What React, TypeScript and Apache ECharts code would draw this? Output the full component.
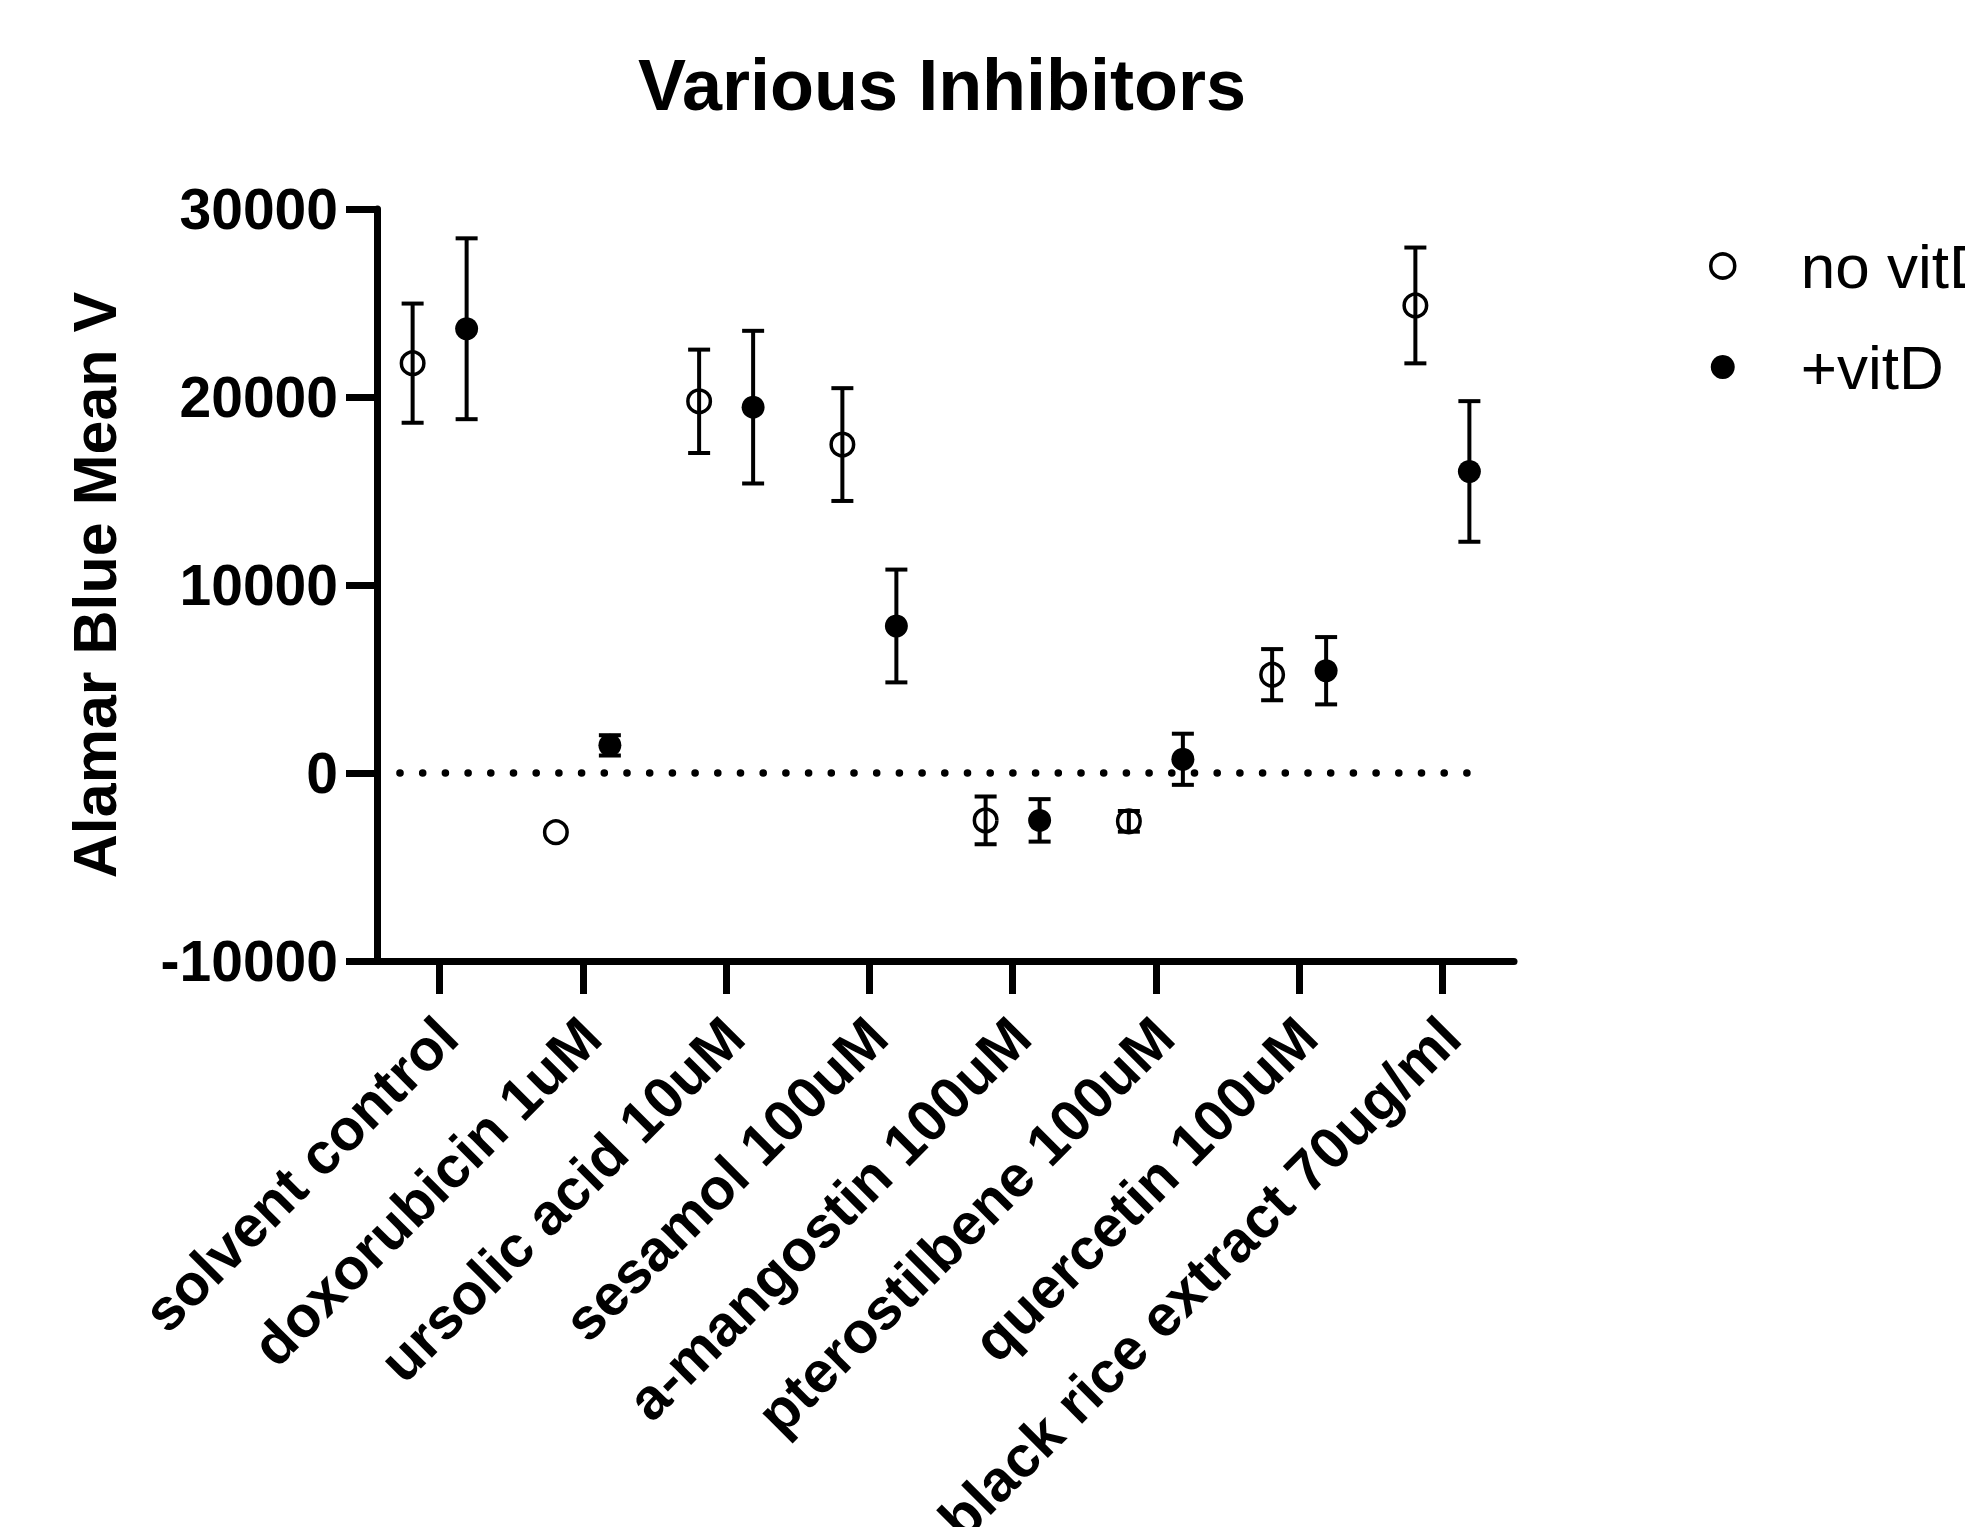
import React, { useEffect, useRef } from 'react';
import * as echarts from 'echarts';

const categories = [
  'solvent control',
  'doxorubicin 1uM',
  'ursolic acid 10uM',
  'sesamol 100uM',
  'a-mangostin 100uM',
  'pterostilbene 100uM',
  'quercetin 100uM',
  'black rice extract 70ug/ml',
];
const seriesNames = ['no vitD', '+vitD'];
const noVitDMean = [21800, -3150, 19770, 17470, -2520, -2570, 5230, 24870];
const noVitDErr = [3170, 0, 2750, 3000, 1270, 550, 1360, 3080];
const vitDMean = [23630, 1470, 19460, 7820, -2520, 730, 5440, 16040];
const vitDErr = [4810, 540, 4060, 3000, 1130, 1360, 1790, 3740];
const yMin = -10000;
const yMax = 30000;
const yInterval = 10000;
const zeroLineX = [0.223, 7.78];

const FONT = '"Liberation Sans", Arial, Helvetica, sans-serif';

export default function App() {
  const ref = useRef<HTMLDivElement>(null);
  useEffect(() => {
    const chart = echarts.init(ref.current!, null, { renderer: 'svg' });
    const GROUP_OFFSET = 27;
    const CAP = 11;

    const errData = (means: number[], errs: number[]) =>
      means.map((m, i) => [i, m, m - errs[i], m + errs[i], errs[i]]);

    const makeErr = (name: string, means: number[], errs: number[], dx: number) => ({
      type: 'custom',
      name,
      xAxisIndex: 0,
      yAxisIndex: 0,
      silent: true,
      z: 3,
      encode: { x: 0, y: [2, 3] },
      data: errData(means, errs),
      renderItem: (params: any, api: any) => {
        const i = api.value(0);
        const lo = api.value(2);
        const hi = api.value(3);
        const e = api.value(4);
        if (!e) return null;
        const top = api.coord([i, hi]);
        const bot = api.coord([i, lo]);
        const x = top[0] + dx;
        const style = { stroke: '#000', lineWidth: 4, fill: 'none' };
        return {
          type: 'group',
          children: [
            { type: 'line', shape: { x1: x, y1: top[1], x2: x, y2: bot[1] }, style },
            { type: 'line', shape: { x1: x - CAP, y1: top[1], x2: x + CAP, y2: top[1] }, style },
            { type: 'line', shape: { x1: x - CAP, y1: bot[1], x2: x + CAP, y2: bot[1] }, style },
          ],
        };
      },
    });

    const option: any = {
      animation: false,
      backgroundColor: '#ffffff',
      title: {
        text: 'Various Inhibitors',
        left: 633,
        top: 44,
        textStyle: { fontFamily: FONT, fontSize: 72, fontWeight: 'bold', color: '#000' },
      },
      legend: {
        orient: 'vertical',
        left: 1704,
        top: 230,
        itemWidth: 24,
        itemHeight: 24,
        itemGap: 39,
        selectedMode: false,
        textStyle: {
          fontFamily: FONT,
          fontSize: 62,
          color: '#000',
          lineHeight: 62,
          padding: [0, 0, 0, 61],
        },
        data: [
          {
            name: seriesNames[0],
            icon: 'circle',
            itemStyle: { color: 'rgba(0,0,0,0)', borderColor: '#000', borderWidth: 3.5 },
          },
          {
            name: seriesNames[1],
            icon: 'circle',
            itemStyle: { color: '#000', borderWidth: 0 },
          },
        ],
      },
      grid: {
        left: 368,
        width: 1146,
        top: 209,
        height: 752,
        containLabel: false,
        outerBoundsMode: 'none',
      },
      xAxis: [
        {
          type: 'category',
          data: categories,
          boundaryGap: true,
          axisLine: { show: true, onZero: false, lineStyle: { color: '#000', width: 7 } },
          axisTick: { show: true, alignWithLabel: true, length: 33, lineStyle: { color: '#000', width: 7 } },
          axisLabel: {
            interval: 0,
            rotate: 45,
            margin: 74,
            padding: [0, -11, 0, 0],
            fontFamily: FONT,
            fontSize: 58,
            fontWeight: 'bold',
            color: '#000',
          },
          splitLine: { show: false },
        },
        {
          type: 'value',
          min: 0,
          max: categories.length,
          show: false,
          axisLine: { onZero: false },
        },
      ],
      yAxis: {
        type: 'value',
        min: yMin,
        max: yMax,
        interval: yInterval,
        offset: -9,
        name: 'Alamar Blue Mean V',
        nameLocation: 'middle',
        nameGap: 252,
        nameTextStyle: { fontFamily: FONT, fontSize: 61, fontWeight: 'bold', color: '#000' },
        axisLine: { show: true, onZero: false, lineStyle: { color: '#000', width: 7 } },
        axisTick: { show: true, length: 31, lineStyle: { color: '#000', width: 7 } },
        axisLabel: {
          margin: 39,
          fontFamily: FONT,
          fontSize: 57,
          fontWeight: 'bold',
          color: '#000',
          formatter: (v: number) => String(v),
        },
        splitLine: { show: false },
      },
      series: [
        {
          type: 'line',
          name: 'zero',
          xAxisIndex: 1,
          yAxisIndex: 0,
          silent: true,
          symbol: 'none',
          z: 1,
          data: zeroLineX.map((x) => [x, 0]),
          lineStyle: { color: '#000', width: 7.5, type: [0.1, 22.6], cap: 'round' },
        },
        makeErr('no vitD err', noVitDMean, noVitDErr, -GROUP_OFFSET),
        makeErr('+vitD err', vitDMean, vitDErr, GROUP_OFFSET),
        {
          type: 'scatter',
          name: seriesNames[0],
          data: noVitDMean,
          symbol: 'circle',
          symbolSize: 22.5,
          symbolOffset: [-GROUP_OFFSET, 0],
          itemStyle: { color: 'rgba(0,0,0,0)', borderColor: '#000', borderWidth: 3.5, opacity: 1 },
          z: 4,
        },
        {
          type: 'scatter',
          name: seriesNames[1],
          data: vitDMean,
          symbol: 'circle',
          symbolSize: 23,
          symbolOffset: [GROUP_OFFSET, 0],
          itemStyle: { color: '#000', opacity: 1 },
          z: 4,
        },
      ],
    };
    chart.setOption(option);
    return () => chart.dispose();
  }, []);

  return (
    <div
      ref={ref}
      style={{ position: 'fixed', left: 0, top: 0, width: 1965, height: 1527, background: '#fff' }}
    />
  );
}
